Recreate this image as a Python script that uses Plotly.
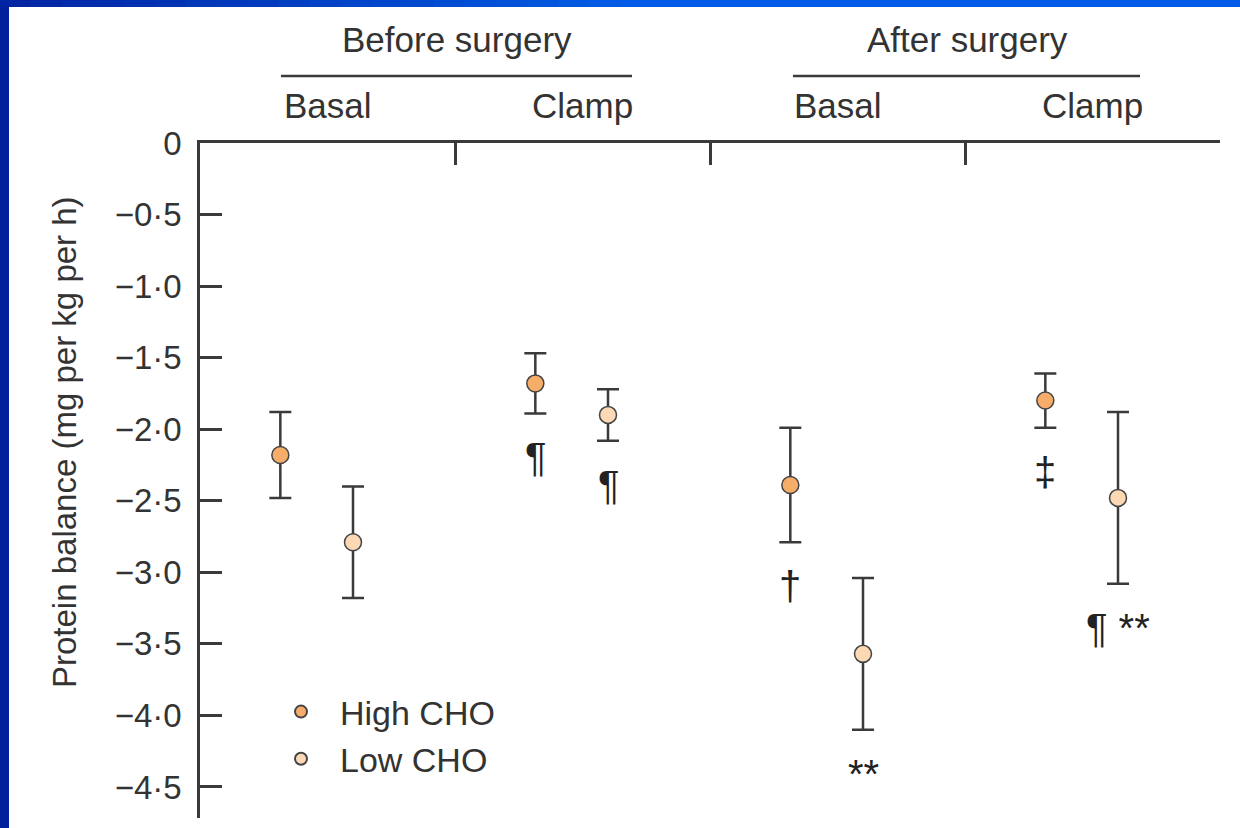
import plotly.graph_objects as go

# ---------------- data ----------------
phases = ["Before surgery", "After surgery"]
conditions = ["Basal", "Clamp", "Basal", "Clamp"]
series_names = ["High CHO", "Low CHO"]
high_mean = [-2.18, -1.68, -2.39, -1.80]
high_err = [0.30, 0.21, 0.40, 0.19]
low_mean = [-2.79, -1.90, -3.57, -2.48]
low_err = [0.39, 0.18, 0.53, 0.60]
high_sig = ["", "¶", "†", "‡"]
low_sig = ["", "¶", "**", "¶ **"]
y_ticks = [0, -0.5, -1.0, -1.5, -2.0, -2.5, -3.0, -3.5, -4.0, -4.5]
y_tick_text = ["0", "−0·5", "−1·0", "−1·5", "−2·0", "−2·5", "−3·0", "−3·5", "−4·0", "−4·5"]
y_title = "Protein balance (mg per kg per h)"

# ---------------- layout constants ----------------
W, H = 1240, 828
ML, MR, MT, MB = 200, 20, 143, 10
PW, PH = W - ML - MR, H - MT - MB
FONT = "Liberation Sans, Arial, sans-serif"
TXT = "#333333"
LINE = "#3a3a3a"
HIGH_COL = "#F6AD6A"
LOW_COL = "#FCD8B4"
HIGH_OFF, LOW_OFF = 0.315, 0.60
Y_MIN = -4.717
PX_PER_UNIT = PH / (-Y_MIN)
SIG_GAP_PX = 44


def px_x(p):
    return (p - ML) / PW


def px_y(p):
    return (H - MB - p) / PH


xi = list(range(len(conditions)))
xh = [i + HIGH_OFF for i in xi]
xl = [i + LOW_OFF for i in xi]

fig = go.Figure()
fig.add_trace(go.Scatter(
    x=xh, y=high_mean, mode="markers", name=series_names[0],
    marker=dict(size=17, color=HIGH_COL, line=dict(color="#444", width=1.5)),
    error_y=dict(type="data", array=high_err, visible=True, color=LINE, thickness=2.5, width=11),
))
fig.add_trace(go.Scatter(
    x=xl, y=low_mean, mode="markers", name=series_names[1],
    marker=dict(size=17, color=LOW_COL, line=dict(color="#444", width=1.5)),
    error_y=dict(type="data", array=low_err, visible=True, color=LINE, thickness=2.5, width=11),
))

annotations = []
# significance symbols below the error bars
gap = SIG_GAP_PX / PX_PER_UNIT
for xs, ms, es, ss in [(xh, high_mean, high_err, high_sig), (xl, low_mean, low_err, low_sig)]:
    for i in xi:
        if ss[i]:
            annotations.append(dict(x=xs[i], y=ms[i] - es[i] - gap, text=ss[i],
                                    showarrow=False, xref="x", yref="y", yanchor="middle",
                                    font=dict(family=FONT, size=40, color="#222")))

# condition labels
cond_px = [328, 582, 838, 1092]
for c, cx in zip(conditions, cond_px):
    annotations.append(dict(x=px_x(cx), y=px_y(106), xref="paper", yref="paper", text=c,
                            showarrow=False, xanchor="center", yanchor="middle",
                            font=dict(family=FONT, size=35, color=TXT)))
# phase labels
phase_px = [457, 967]
for p, cx in zip(phases, phase_px):
    annotations.append(dict(x=px_x(cx), y=px_y(40), xref="paper", yref="paper", text=p,
                            showarrow=False, xanchor="center", yanchor="middle",
                            font=dict(family=FONT, size=35, color=TXT)))
# y title
annotations.append(dict(x=px_x(64), y=px_y(442), xref="paper", yref="paper", text=y_title,
                        showarrow=False, textangle=-90, xanchor="center", yanchor="middle",
                        font=dict(family=FONT, size=33, color=TXT)))

shapes = []
# phase underlines
for x0, x1 in [(281, 632), (793, 1140)]:
    shapes.append(dict(type="line", xref="paper", yref="paper", x0=px_x(x0), x1=px_x(x1),
                       y0=px_y(76), y1=px_y(76), line=dict(color=LINE, width=2.5)))

# blue slide frame (left bar + top gradient bar)
shapes.append(dict(type="rect", xref="paper", yref="paper", x0=px_x(0), x1=px_x(9),
                   y0=px_y(H), y1=px_y(0), fillcolor="#00209C", line=dict(width=0), layer="above"))
nseg = 40
c0 = (0x00, 0x24, 0xA2)
c1 = (0x00, 0x5C, 0xE6)
for k in range(nseg):
    xa = W * k / nseg
    xb = W * (k + 1) / nseg + 1
    t = min(1.0, (xa + xb) / 2 / 620)
    col = "rgb(%d,%d,%d)" % tuple(int(c0[j] + (c1[j] - c0[j]) * t) for j in range(3))
    shapes.append(dict(type="rect", xref="paper", yref="paper", x0=px_x(xa), x1=px_x(xb),
                       y0=px_y(7), y1=px_y(0), fillcolor=col, line=dict(width=0), layer="above"))

fig.update_layout(
    width=W, height=H,
    margin=dict(l=ML, r=MR, t=MT, b=MB, pad=0),
    paper_bgcolor="white", plot_bgcolor="white",
    font=dict(family=FONT, color=TXT),
    showlegend=True,
    legend=dict(x=px_x(262), y=px_y(683), xanchor="left", yanchor="top",
                font=dict(family=FONT, size=34, color=TXT), itemsizing="constant",
                bgcolor="rgba(0,0,0,0)", tracegroupgap=0, itemwidth=68),
    xaxis=dict(range=[0, len(conditions)], side="top", showline=True, linecolor=LINE, linewidth=2.5,
               tickmode="array", tickvals=[1, 2, 3, 4], ticks="inside", ticklen=22, tickwidth=2.5,
               tickcolor=LINE, showticklabels=False, showgrid=False, zeroline=False),
    yaxis=dict(range=[Y_MIN, 0], showline=True, linecolor=LINE, linewidth=2.5,
               tickmode="array", tickvals=y_ticks, ticktext=y_tick_text, ticks="inside",
               ticklen=22, tickwidth=2.5, tickcolor=LINE, ticklabelstandoff=9,
               tickfont=dict(family=FONT, size=33, color=TXT), showgrid=False, zeroline=False),
    annotations=annotations, shapes=shapes,
)

fig.write_html("out.html", config={"displayModeBar": False},
               post_script="document.body.style.margin='0';document.body.style.overflow='hidden';")
